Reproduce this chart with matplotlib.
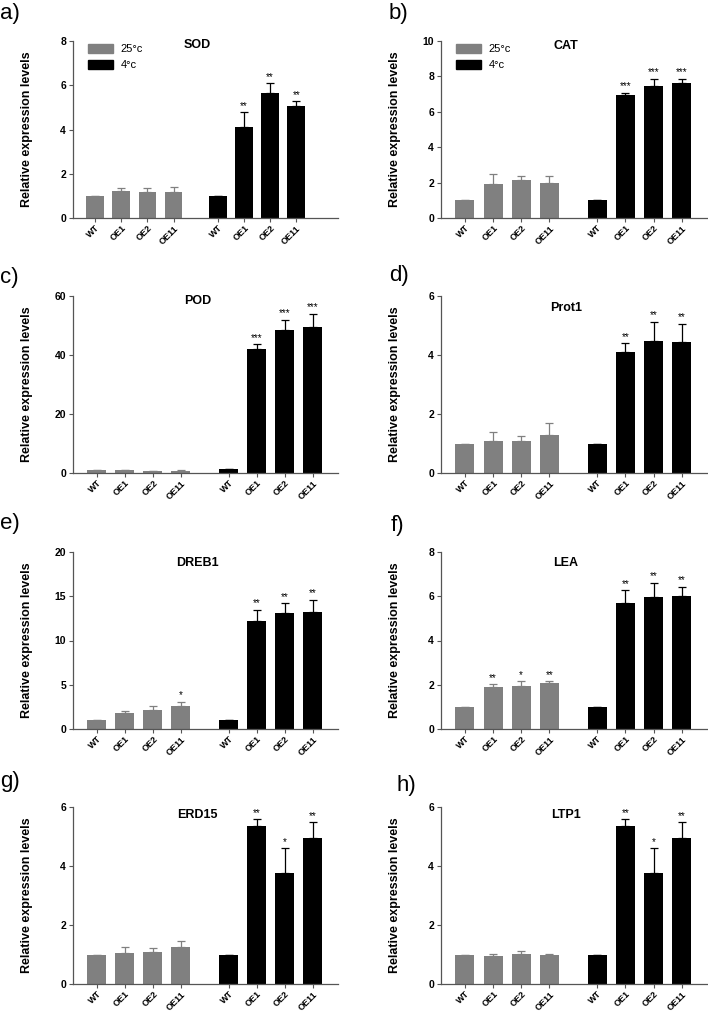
import numpy as np
import matplotlib
matplotlib.use("Agg")
import matplotlib.pyplot as plt
from matplotlib.patches import Patch

plt.rcParams['font.family'] = ['Liberation Sans', 'DejaVu Sans']

# categories
lines = ['WT', 'OE1', 'OE2', 'OE11']
genes = ['SOD', 'CAT', 'POD', 'Prot1', 'DREB1', 'LEA', 'ERD15', 'LTP1']
panel_tags = ['a)', 'b)', 'c)', 'd)', 'e)', 'f)', 'g)', 'h)']

# 25°c means / SEM
warm_mean = [
    [1.0, 1.20, 1.16, 1.17],
    [1.0, 1.91, 2.16, 1.97],
    [1.0, 0.90, 0.70, 0.80],
    [1.0, 1.10, 1.09, 1.29],
    [1.0, 1.77, 2.11, 2.60],
    [1.0, 1.88, 1.96, 2.06],
    [1.0, 1.04, 1.09, 1.25],
    [1.0, 0.95, 1.02, 0.99],
]
warm_err = [
    [0, 0.15, 0.20, 0.25],
    [0, 0.57, 0.20, 0.38],
    [0, 0.10, 0.10, 0.10],
    [0, 0.28, 0.16, 0.41],
    [0, 0.22, 0.49, 0.49],
    [0, 0.15, 0.20, 0.11],
    [0, 0.22, 0.14, 0.20],
    [0, 0.06, 0.11, 0.02],
]
warm_sig = [
    ['', '', '', ''],
    ['', '', '', ''],
    ['', '', '', ''],
    ['', '', '', ''],
    ['', '', '', '*'],
    ['', '**', '*', '**'],
    ['', '', '', ''],
    ['', '', '', ''],
]

# 4°c means / SEM
cold_mean = [
    [1.0, 4.10, 5.67, 5.07],
    [1.0, 6.96, 7.43, 7.64],
    [1.2, 42.1, 48.4, 49.5],
    [1.0, 4.11, 4.47, 4.44],
    [1.0, 12.24, 13.1, 13.26],
    [1.0, 5.71, 5.95, 6.01],
    [1.0, 5.37, 3.76, 4.95],
    [1.0, 5.37, 3.76, 4.95],
]
cold_err = [
    [0, 0.67, 0.42, 0.20],
    [0, 0.11, 0.45, 0.22],
    [0, 1.6, 3.6, 4.5],
    [0, 0.29, 0.66, 0.62],
    [0, 1.24, 1.10, 1.32],
    [0, 0.56, 0.66, 0.41],
    [0, 0.21, 0.84, 0.54],
    [0, 0.21, 0.84, 0.54],
]
cold_sig = [
    ['', '**', '**', '**'],
    ['', '***', '***', '***'],
    ['', '***', '***', '***'],
    ['', '**', '**', '**'],
    ['', '**', '**', '**'],
    ['', '**', '**', '**'],
    ['', '**', '*', '**'],
    ['', '**', '*', '**'],
]

y_max = [8, 10, 60, 6, 20, 8, 6, 6]
y_step = [2, 2, 20, 2, 5, 2, 2, 2]

# layout (figure fractions)
col_left = [73 / 708, 441 / 708]
col_width = [265 / 708, 266 / 708]
row_bottom = [1 - 218 / 1015, 1 - 473 / 1015, 1 - 729 / 1015, 1 - 984 / 1015]
ax_h = 177 / 1015
title_y = [0.975, 0.97, 0.97, 0.93, 0.94, 0.94, 0.955, 0.955]
x_right = [9.3, 8.6, 8.6, 8.6, 8.6, 8.6, 8.6, 8.6]
tag_pos = [(0, 13), (389, 13), (0, 278), (389, 275), (0, 523), (391, 525), (0, 782), (397, 785)]

GRAY = '#808080'
SPINE = '#555555'

fig = plt.figure(figsize=(7.08, 10.15), dpi=100)

x_warm = np.arange(4)
x_cold = np.arange(4) + 4.7
width = 0.68

for i, gene in enumerate(genes):
    row, col = divmod(i, 2)
    ax = fig.add_axes([col_left[col], row_bottom[row], col_width[col], ax_h])

    for xs, m, e, sig, c in [(x_warm, warm_mean[i], warm_err[i], warm_sig[i], GRAY),
                             (x_cold, cold_mean[i], cold_err[i], cold_sig[i], 'black')]:
        ax.errorbar(xs, m, yerr=[np.zeros(4), e], fmt='none', ecolor=c,
                    elinewidth=0.9, capsize=3, capthick=0.9, zorder=1)
        ax.bar(xs, m, width=width, color=c, zorder=2)
        for xx, mm, ee, s in zip(xs, m, e, sig):
            if s:
                ax.annotate(s, (xx, mm + ee), xytext=(0, 1), textcoords='offset points',
                            ha='center', va='bottom', fontsize=7)

    ax.set_xlim(-0.85, x_right[i])
    ax.set_ylim(0, y_max[i])
    ax.set_yticks(np.arange(0, y_max[i] + 0.01, y_step[i]))
    ax.set_xticks(np.concatenate([x_warm, x_cold]))
    ax.set_xticklabels(lines + lines, rotation=45, ha='right', rotation_mode='anchor',
                       fontsize=6.5, fontweight='bold')
    for lab in ax.get_yticklabels():
        lab.set_fontweight('bold')
        lab.set_fontsize(7.5)
    ax.tick_params(axis='both', length=3, width=0.8, color=SPINE, pad=2)
    ax.tick_params(axis='x', pad=1)
    for s in ['top', 'right']:
        ax.spines[s].set_visible(False)
    for s in ['left', 'bottom']:
        ax.spines[s].set_color(SPINE)
        ax.spines[s].set_linewidth(0.9)

    ax.set_ylabel('Relative expression levels', fontsize=9, fontweight='bold')
    ax.yaxis.set_label_coords(-0.15, 0.5)
    ax.text(0.47, title_y[i], gene, transform=ax.transAxes, ha='center', va='center',
            fontsize=9, fontweight='bold')

    if i < 2:
        handles = [Patch(color=GRAY, label='25°c'), Patch(color='black', label='4°c')]
        ax.legend(handles=handles, loc='upper left', bbox_to_anchor=(0.02, 1.04),
                  frameon=False, fontsize=8, handlelength=2.2, handleheight=0.9,
                  labelspacing=0.5, handletextpad=0.7)

    tx, ty = tag_pos[i]
    fig.text(tx / 708, 1 - ty / 1015, panel_tags[i], fontsize=16, ha='left', va='center')

fig.savefig('out.png', dpi=100)
